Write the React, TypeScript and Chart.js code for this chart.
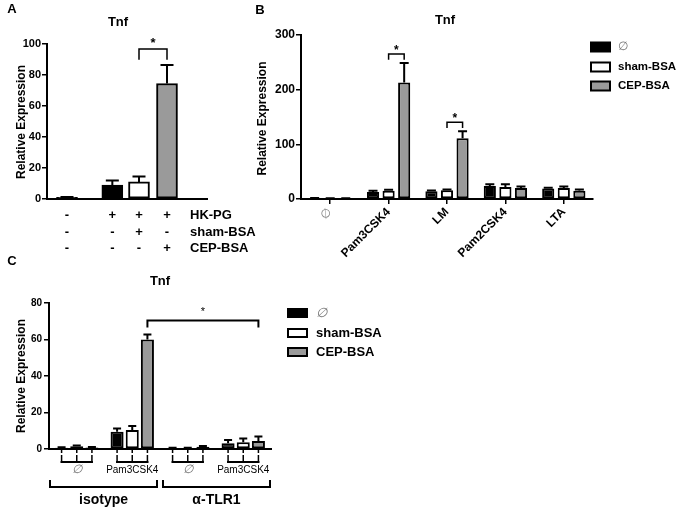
import React, { useEffect, useRef } from "react";
import { Chart, registerables } from "chart.js";

Chart.register(...registerables);

const FONT = "'Liberation Sans', Arial, Helvetica, sans-serif";
Chart.defaults.font.family = FONT;

// ---------------- Data ----------------
// Panel A
const A_CONDITIONS = ["untreated", "HK-PG", "HK-PG + sham-BSA", "HK-PG + CEP-BSA"];
const A_VALUES = [1, 9, 11, 74.5];
const A_ERRORS = [0.3, 3, 3.5, 12];
const A_ROW_LABELS = ["HK-PG", "sham-BSA", "CEP-BSA"];
const A_ROW_HKPG = ["-", "+", "+", "+"];
const A_ROW_SHAM = ["-", "-", "+", "-"];
const A_ROW_CEP = ["-", "-", "-", "+"];
const A_Y_MAX = 100;
const A_Y_STEP = 20;

// Panel B
const SERIES = ["∅", "sham-BSA", "CEP-BSA"];
const B_CATEGORIES = ["∅", "Pam3CSK4", "LM", "Pam2CSK4", "LTA"];
const B_NONE = [1.5, 13, 14, 24, 19];
const B_NONE_ERR = [0.3, 2, 1.5, 3, 1.5];
const B_SHAM = [1.2, 15, 16, 22, 20];
const B_SHAM_ERR = [0.3, 2, 1.5, 5, 3];
const B_CEP = [1.2, 213, 111, 20, 15];
const B_CEP_ERR = [0.3, 36, 13, 3, 2.5];
const B_SIG_CATEGORIES = [1, 2];
const B_Y_MAX = 300;
const B_Y_STEP = 100;

// Panel C
const C_GROUPS = ["∅", "Pam3CSK4", "∅", "Pam3CSK4"];
const C_TREATMENTS = ["isotype", "α-TLR1"];
const C_NONE = [0.7, 9.5, 0.5, 3.1];
const C_NONE_ERR = [0.2, 1.8, 0.2, 1.8];
const C_SHAM = [1.5, 10.4, 0.5, 3.7];
const C_SHAM_ERR = [0.4, 2.2, 0.2, 2.1];
const C_CEP = [0.8, 60, 1.3, 4.4];
const C_CEP_ERR = [0.3, 2.8, 0.4, 2.4];
const C_SIG_FROM = 1;
const C_SIG_TO = 3;
const C_Y_MAX = 80;
const C_Y_STEP = 20;

// ---------------- Styles / layout ----------------
const FILLS = ["#000000", "#ffffff", "#9a9a9a"];
const A_FILLS = ["#000000", "#000000", "#ffffff", "#9a9a9a"];
const A_SLOTS = [0, 1.7, 2.7, 3.75]; // horizontal slot positions (layout)

// ---------------- Helpers ----------------
function txt(ctx: any, s: string, x: number, y: number, font: string, color = "#000", align = "center", baseline = "middle") {
  ctx.save();
  ctx.font = font;
  ctx.fillStyle = color;
  ctx.textAlign = align;
  ctx.textBaseline = baseline;
  ctx.fillText(s, x, y);
  ctx.restore();
}
function vtxt(ctx: any, s: string, x: number, y: number, font: string) {
  ctx.save();
  ctx.translate(x, y);
  ctx.rotate(-Math.PI / 2);
  txt(ctx, s, 0, 0, font);
  ctx.restore();
}
function star(ctx: any, x: number, cy: number, size: number, weight = "bold") {
  txt(ctx, "*", x, cy + 0.573 * size, `${weight} ${size}px ${FONT}`, "#000", "center", "alphabetic");
}
function bracket(ctx: any, x1: number, x2: number, yTop: number, yLeg: number, lw = 2) {
  ctx.save();
  ctx.strokeStyle = "#000";
  ctx.lineWidth = lw;
  ctx.lineCap = "square";
  ctx.beginPath();
  ctx.moveTo(x1, yLeg);
  ctx.lineTo(x1, yTop);
  ctx.lineTo(x2, yTop);
  ctx.lineTo(x2, yLeg);
  ctx.stroke();
  ctx.restore();
}
function line(ctx: any, x1: number, y1: number, x2: number, y2: number, lw = 2) {
  ctx.save();
  ctx.strokeStyle = "#000";
  ctx.lineWidth = lw;
  ctx.beginPath();
  ctx.moveTo(x1, y1);
  ctx.lineTo(x2, y2);
  ctx.stroke();
  ctx.restore();
}
function legendBox(ctx: any, x: number, cy: number, w: number, h: number, fill: string) {
  ctx.save();
  ctx.fillStyle = fill;
  ctx.strokeStyle = "#000";
  ctx.lineWidth = 2;
  ctx.fillRect(x, cy - h / 2, w, h);
  ctx.strokeRect(x, cy - h / 2, w, h);
  ctx.restore();
}
function valOf(v: any) {
  return typeof v === "number" ? v : v.y;
}

function errorBars(cap: number, lw: number) {
  return {
    id: "errorBars",
    afterDatasetsDraw(chart: any) {
      const ctx = chart.ctx;
      const yScale = chart.scales.y;
      chart.data.datasets.forEach((ds: any, di: number) => {
        const errs = ds.errors;
        if (!errs) return;
        const meta = chart.getDatasetMeta(di);
        meta.data.forEach((bar: any, i: number) => {
          const v = valOf(ds.data[i]);
          const top = yScale.getPixelForValue(v + errs[i]);
          ctx.save();
          ctx.strokeStyle = "#000";
          ctx.lineWidth = lw;
          ctx.beginPath();
          ctx.moveTo(bar.x, bar.y);
          ctx.lineTo(bar.x, top);
          ctx.moveTo(bar.x - cap / 2, top);
          ctx.lineTo(bar.x + cap / 2, top);
          ctx.stroke();
          ctx.restore();
        });
      });
    },
  };
}

function yAxis(max: number, step: number, size: number, width: number, pad: number) {
  return {
    min: 0,
    max,
    ticks: { stepSize: step, color: "#000", font: { size, weight: "bold" }, padding: pad },
    grid: { drawOnChartArea: false, drawTicks: true, tickLength: 5, color: "#000", lineWidth: 1.5 },
    border: { color: "#000", width: 2 },
    afterFit: (s: any) => {
      s.width = width;
    },
  };
}

// ---------------- Panel A ----------------
function configA(): any {
  const annot = {
    id: "annotA",
    afterDraw(chart: any) {
      const ctx = chart.ctx;
      const meta = chart.getDatasetMeta(0);
      const y = chart.scales.y;
      txt(ctx, "A", 12, 9, `bold 13px ${FONT}`);
      txt(ctx, "Tnf", 118, 22, `bold 13px ${FONT}`);
      vtxt(ctx, "Relative Expression", 21.5, 122, `bold 12px ${FONT}`);
      const rows = [A_ROW_HKPG, A_ROW_SHAM, A_ROW_CEP];
      const rowY = [215, 232, 248];
      rows.forEach((r, ri) => {
        r.forEach((s, i) => txt(ctx, s, meta.data[i].x, rowY[ri], `bold 13px ${FONT}`));
        txt(ctx, A_ROW_LABELS[ri], 190, rowY[ri], `bold 13px ${FONT}`, "#000", "left");
      });
      const errTop = y.getPixelForValue(A_VALUES[3] + A_ERRORS[3]);
      const top = errTop - 16;
      bracket(ctx, meta.data[2].x, meta.data[3].x, top, errTop - 6, 1.5);
      star(ctx, (meta.data[2].x + meta.data[3].x) / 2, top - 9, 13);
    },
  };
  return {
    type: "bar",
    data: {
      datasets: [
        {
          label: "Tnf",
          data: A_VALUES.map((v, i) => ({ x: A_SLOTS[i], y: v, c: A_CONDITIONS[i] })),
          backgroundColor: A_FILLS,
          borderColor: "#000",
          borderWidth: 2,
          borderSkipped: false,
          barThickness: 21,
          errors: A_ERRORS,
        },
      ],
    },
    options: {
      animation: false,
      responsive: false,
      layout: { padding: { top: 44, right: 93, left: 0, bottom: 0 } },
      plugins: { legend: { display: false }, tooltip: { enabled: false } },
      scales: {
        x: {
          type: "linear",
          offset: false,
          bounds: "data",
          min: -0.75,
          max: 5.25,
          ticks: { display: false },
          grid: { display: false, offset: false },
          border: { color: "#000", width: 2 },
          afterFit: (s: any) => {
            s.height = 61;
          },
        },
        y: yAxis(A_Y_MAX, A_Y_STEP, 11, 47, 1),
      },
    },
    plugins: [errorBars(13, 2), annot],
  };
}

// ---------------- Panel B ----------------
function configB(): any {
  const annot = {
    id: "annotB",
    afterDraw(chart: any) {
      const ctx = chart.ctx;
      const y = chart.scales.y;
      txt(ctx, "B", 25, 10, `bold 13px ${FONT}`);
      txt(ctx, "Tnf", 210, 20, `bold 13px ${FONT}`);
      vtxt(ctx, "Relative Expression", 27.5, 118.5, `bold 12px ${FONT}`);
      const m1 = chart.getDatasetMeta(1);
      const m2 = chart.getDatasetMeta(2);
      B_SIG_CATEGORIES.forEach((c) => {
        const errTop = y.getPixelForValue(B_CEP[c] + B_CEP_ERR[c]);
        const top = errTop - 9;
        bracket(ctx, m1.data[c].x, m2.data[c].x, top, errTop - 4, 1.5);
        star(ctx, (m1.data[c].x + m2.data[c].x) / 2, top - 7, 12);
      });
      const ly = [47, 67, 86];
      SERIES.forEach((s, i) => {
        legendBox(ctx, 356, ly[i], 19, 9, FILLS[i]);
        if (i === 0) txt(ctx, s, 383, ly[i], `12px ${FONT}`, "#777", "left");
        else txt(ctx, s, 383, ly[i], `bold 11.5px ${FONT}`, "#000", "left");
      });
    },
  };
  const vals = [B_NONE, B_SHAM, B_CEP];
  const errs = [B_NONE_ERR, B_SHAM_ERR, B_CEP_ERR];
  return {
    type: "bar",
    data: {
      labels: B_CATEGORIES,
      datasets: SERIES.map((s, i) => ({
        label: s,
        data: vals[i],
        backgroundColor: FILLS[i],
        borderColor: "#000",
        borderWidth: 2,
        borderSkipped: false,
        barPercentage: 0.78,
        categoryPercentage: 0.8,
        errors: errs[i],
      })),
    },
    options: {
      animation: false,
      responsive: false,
      layout: { padding: { top: 35, right: 94, left: 0, bottom: 0 } },
      plugins: { legend: { display: false }, tooltip: { enabled: false } },
      scales: {
        x: {
          ticks: {
            minRotation: 45,
            maxRotation: 45,
            padding: 1,
            color: (c: any) => (c.index === 0 ? "#8a8a8a" : "#000"),
            font: (c: any) => ({ size: 12, weight: c.index === 0 ? "normal" : "bold" }),
          },
          grid: { display: true, offset: false, drawOnChartArea: false, drawTicks: true, tickLength: 5, color: "#000", lineWidth: 1.5 },
          border: { color: "#000", width: 2 },
          afterFit: (s: any) => {
            s.height = 61;
          },
        },
        y: yAxis(B_Y_MAX, B_Y_STEP, 12, 66, 1),
      },
    },
    plugins: [errorBars(9, 2), annot],
  };
}

// ---------------- Panel C ----------------
function configC(): any {
  const OY = 250;
  const annot = {
    id: "annotC",
    afterDraw(chart: any) {
      const ctx = chart.ctx;
      const y = chart.scales.y;
      const x = chart.scales.x;
      const area = chart.chartArea;
      txt(ctx, "C", 12, 261 - OY, `bold 13px ${FONT}`);
      txt(ctx, "Tnf", 160, 281 - OY, `bold 13px ${FONT}`);
      vtxt(ctx, "Relative Expression", 21.5, 376 - OY, `bold 12px ${FONT}`);
      const metas = [0, 1, 2].map((d) => chart.getDatasetMeta(d));
      // tick marks under each bar
      metas.forEach((m) => m.data.forEach((b: any) => line(ctx, b.x, area.bottom, b.x, area.bottom + 4, 1.5)));
      // group brackets + labels
      C_GROUPS.forEach((g, gi) => {
        const xs = metas.map((m) => m.data[gi].x);
        const yb = 462 - OY;
        line(ctx, xs[0] - 1, yb, xs[2] + 1, yb, 2);
        xs.forEach((xx) => line(ctx, xx, yb + 1, xx, 455 - OY, 1.5));
        if (g === "∅") txt(ctx, g, (xs[0] + xs[2]) / 2, 470 - OY, `italic 12px ${FONT}`, "#777");
        else txt(ctx, g, (xs[0] + xs[2]) / 2, 470 - OY, `10px ${FONT}`, "#000");
      });
      // treatment brackets + labels
      const half = (x.getPixelForValue(1) - x.getPixelForValue(0)) / 2;
      C_TREATMENTS.forEach((t, ti) => {
        const x1 = x.getPixelForValue(ti * 2) - half + (ti === 0 ? 1 : 3);
        const x2 = x.getPixelForValue(ti * 2 + 1) + half - (ti === 0 ? 3 : 1);
        const yb = 487 - OY;
        bracket(ctx, x1, x2, yb, 481 - OY, 2);
        txt(ctx, t, (x1 + x2) / 2, 500 - OY, `bold 14px ${FONT}`);
      });
      // significance bracket
      const errTop = y.getPixelForValue(C_CEP[C_SIG_FROM] + C_CEP_ERR[C_SIG_FROM]);
      const top = errTop - 14;
      const xa = metas[2].data[C_SIG_FROM].x;
      const xb = metas[2].data[C_SIG_TO].x;
      bracket(ctx, xa, xb, top, errTop - 8, 2);
      star(ctx, (xa + xb) / 2, top - 11.5, 11, "normal");
      // legend
      const ly = [313, 333, 352].map((v) => v - OY);
      SERIES.forEach((s, i) => {
        legendBox(ctx, 288, ly[i], 19, 8, FILLS[i]);
        if (i === 0) txt(ctx, s, 316, ly[i], `italic 13px ${FONT}`, "#777", "left");
        else txt(ctx, s, 316, ly[i], `bold 13px ${FONT}`, "#000", "left");
      });
    },
  };
  const vals = [C_NONE, C_SHAM, C_CEP];
  const errs = [C_NONE_ERR, C_SHAM_ERR, C_CEP_ERR];
  return {
    type: "bar",
    data: {
      labels: C_GROUPS.map((g, i) => `${C_TREATMENTS[Math.floor(i / 2)]} ${g}`),
      datasets: SERIES.map((s, i) => ({
        label: s,
        data: vals[i],
        backgroundColor: FILLS[i],
        borderColor: "#000",
        borderWidth: 2,
        borderSkipped: false,
        barPercentage: 0.86,
        categoryPercentage: 0.82,
        errors: errs[i],
      })),
    },
    options: {
      animation: false,
      responsive: false,
      layout: { padding: { top: 53, right: 416, left: 0, bottom: 0 } },
      plugins: { legend: { display: false }, tooltip: { enabled: false } },
      scales: {
        x: {
          ticks: { display: false },
          grid: { display: false },
          border: { color: "#000", width: 2 },
          afterFit: (s: any) => {
            s.height = 59;
          },
        },
        y: yAxis(C_Y_MAX, C_Y_STEP, 10, 49, 2),
      },
    },
    plugins: [errorBars(8, 2), annot],
  };
}

function Panel(props: { left: number; top: number; width: number; height: number; make: () => any }) {
  const ref = useRef<HTMLCanvasElement>(null);
  useEffect(() => {
    const chart = new Chart(ref.current as HTMLCanvasElement, props.make());
    return () => chart.destroy();
  }, []);
  return (
    <canvas
      ref={ref}
      width={props.width}
      height={props.height}
      style={{ position: "absolute", left: props.left, top: props.top, width: props.width, height: props.height }}
    />
  );
}

export default function App() {
  return (
    <div style={{ position: "absolute", left: 0, top: 0, width: 687, height: 508, background: "#fff", overflow: "hidden" }}>
      <Panel left={0} top={250} width={687} height={258} make={configC} />
      <Panel left={235} top={0} width={452} height={260} make={configB} />
      <Panel left={0} top={0} width={300} height={260} make={configA} />
    </div>
  );
}
